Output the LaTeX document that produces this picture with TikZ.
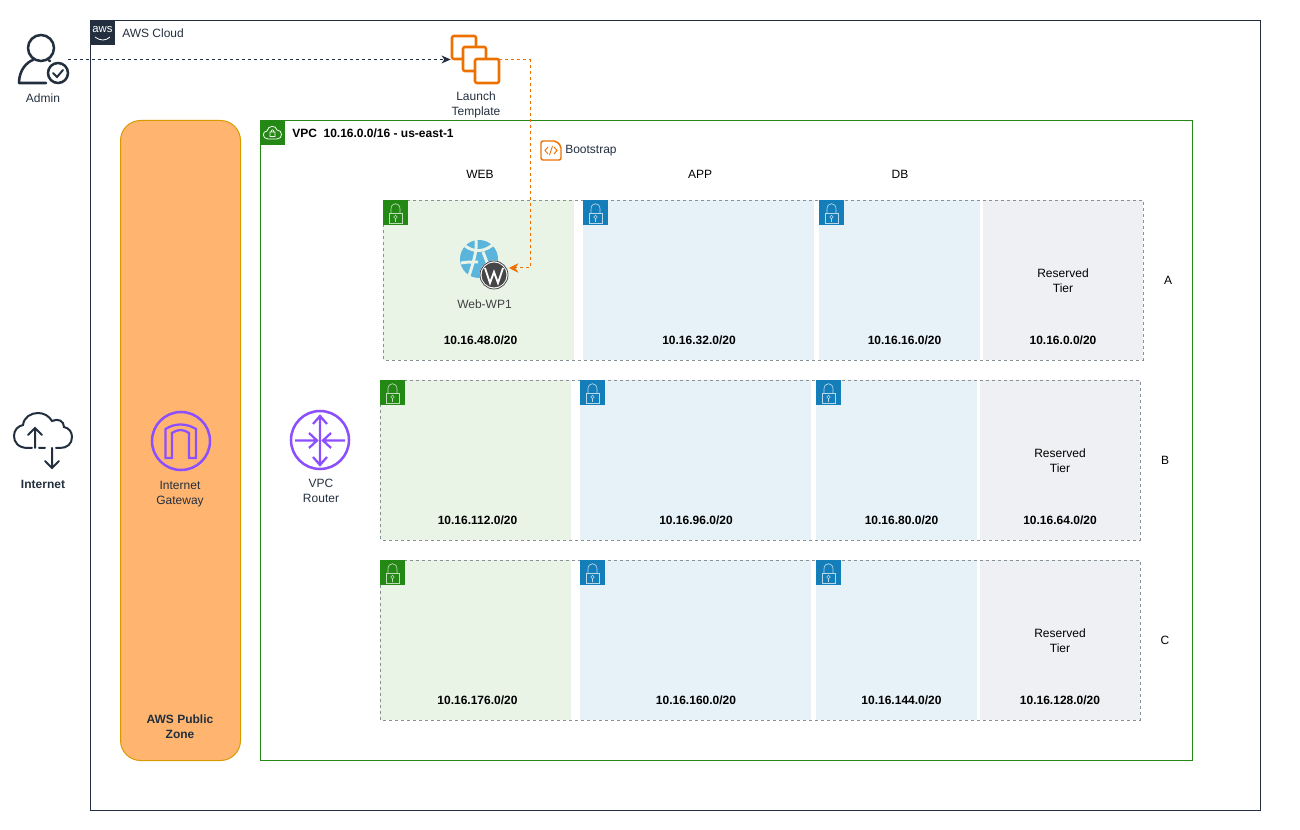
\documentclass[tikz,border=0pt]{standalone}
\usepackage{fontspec}
\setmainfont{Liberation Sans}
\usetikzlibrary{arrows.meta}
\definecolor{awsdark}{HTML}{232F3E}
\definecolor{awsorange}{HTML}{ED7100}
\definecolor{awspurple}{HTML}{8C4FFF}
\definecolor{awsgreen}{HTML}{248814}
\definecolor{awsblue}{HTML}{147EBA}
\definecolor{webfill}{HTML}{E9F3E6}
\definecolor{appfill}{HTML}{E6F2F8}
\definecolor{resfill}{HTML}{EFF0F3}
\definecolor{zonefill}{HTML}{FFB570}
\definecolor{zoneline}{HTML}{D79B00}
\definecolor{globeblue}{HTML}{5AB4DC}
\definecolor{wpgray}{HTML}{464646}
\definecolor{rowline}{HTML}{879196}
\tikzset{
lbl/.style={font=\fontsize{9}{11.25}\selectfont,align=center,inner sep=0pt,text=awsdark},
bold/.style={lbl,font=\fontsize{9}{11.25}\selectfont\bfseries},
plain/.style={lbl,text=black},
iconbox/.style={minimum width=36pt,minimum height=36pt,inner sep=0pt},
icon/.style={draw=awsdark,line width=1.9pt,line cap=round},
purpleicon/.style={draw=awspurple,line width=1.9pt},
orangeicon/.style={draw=awsorange,line width=1.9pt,rounded corners=1.5pt},
lockbadge/.pic={
\fill[#1] (0,0) rectangle (25,25);
\draw[white!70!#1,line width=.5pt] (6,13) rectangle (19,23);
\draw[white!70!#1,line width=.5pt] (8,13)--(8,9) .. controls (8,2) and (17,2) .. (17,9)--(17,13);
\draw[white!70!#1,line width=.4pt] (12.5,17) circle[radius=1.8] (12.5,19)--(12.5,22);
}
}
\begin{document}
\begin{tikzpicture}[x=.75pt,y=-.75pt]
\useasboundingbox (0,0) rectangle (1300,830);
\draw[awsdark,line width=.75pt] (90.5,20.5) rectangle (1260.5,810.5);
\fill[awsdark] (90,20) rectangle (115,45);
\node[inner sep=0pt,text=white,font=\fontsize{8.5}{8.5}\selectfont] (awslogo) at (102.5,30) {aws};
\draw[white,line width=.6pt] (95,37) .. controls (100,41) and (106,41) .. (110,37);
\node[lbl,anchor=west] (cloudlabel) at (122,33.5) {AWS Cloud};
\draw[zoneline,fill=zonefill,line width=.75pt,rounded corners=15pt] (120.5,120.5) rectangle (240.5,760.5);
\draw[awsgreen,line width=.75pt] (260.5,120.5) rectangle (1192.5,760.5);
\fill[awsgreen] (260,120) rectangle (285,145);
\draw[white,line width=.6pt] (268,139) .. controls (262,139) and (262,131) .. (267,131) .. controls (268,125) and (276,125) .. (277,130) .. controls (283,130) and (283,139) .. (277,139)--cycle;
\draw[white,line width=.5pt] (270,132) rectangle (275,136.5) (271,132) .. controls (271,129) and (274,129) .. (274,132);
\node[bold,anchor=west,text=black] (vpclabel) at (292,133.5) {VPC\ \ 10.16.0.0/16 - us-east-1};
\node[plain] (weblabel) at (480,174.5) {WEB};
\node[plain] (applabel) at (700,174.5) {APP};
\node[plain] (dblabel) at (900,174.5) {DB};
\foreach \rowname/\rowx/\rowy/\rowweb/\rowapp/\rowdb/\rowres in {
A/383/200/10.16.48.0/10.16.32.0/10.16.16.0/10.16.0.0,
B/380/380/10.16.112.0/10.16.96.0/10.16.80.0/10.16.64.0,
C/380/560/10.16.176.0/10.16.160.0/10.16.144.0/10.16.128.0}{
\begin{scope}[shift={(\rowx,\rowy)}]
\fill[webfill] (0,0) rectangle (191,160);
\fill[appfill] (200,0) rectangle (431,160);
\fill[appfill] (436,0) rectangle (597,160);
\fill[resfill] (600,0) rectangle (760,160);
\draw[rowline,line width=.5pt,dash pattern=on 2.25pt off 2.25pt] (.5,.5) rectangle (760,160);
\pic at (0,0) {lockbadge=awsgreen};
\pic at (200,0) {lockbadge=awsblue};
\pic at (436,0) {lockbadge=awsblue};
\node[bold,text=black] (web\rowname) at (97.5,140.5) {\rowweb/20};
\node[bold,text=black] (app\rowname) at (316,140.5) {\rowapp/20};
\node[bold,text=black] (db\rowname) at (521.5,140.5) {\rowdb/20};
\node[bold,text=black] (res\rowname) at (680,140.5) {\rowres/20};
\node[lbl,text=black] (tier\rowname) at (680,80.5) {Reserved\\Tier};
\end{scope}
}
\node[plain] (rowa) at (1168,280) {A};
\node[plain] (rowb) at (1165,460) {B};
\node[plain] (rowc) at (1165,640) {C};
\node[iconbox] (admin) at (44,59.5) {};
\draw[icon] (41,48) circle[radius=13];
\draw[icon] (19,83) .. controls (19,70) and (27,62) .. (33,60) (49,60.5)--(50,61) (19,83)--(46,83);
\draw[icon] (58,73) circle[radius=10];
\draw[icon,line width=1.5pt] (53,73)--(57,77)--(63,70);
\node[lbl] (adminlabel) at (43,98) {Admin};
\node[iconbox] (launch) at (475,59.5) {};
\draw[orangeicon] (463,59)--(452,59)--(452,36)--(476,36)--(476,47);
\draw[orangeicon] (475,71)--(463,71)--(463,47)--(486,47)--(486,59);
\draw[orangeicon] (475,59) rectangle (499,83);
\node[lbl] (launchlabel) at (476,105) {Launch\\Template};
\coordinate (bootcorner) at (530,59.5);
\coordinate (bootdrop) at (530,268);
\coordinate (webport) at (509,268);
\draw[awsdark,line width=.75pt,dash pattern=on 2.25pt off 2.25pt,-{Stealth[length=7pt,width=6pt]}] (admin.east)--(launch.west);
\draw[awsorange,line width=.75pt,dash pattern=on 2.25pt off 2.25pt,-{Stealth[length=7pt,width=7pt]}] (launch.east)--(bootcorner)--(bootdrop)--(webport);
\draw[orangeicon,line width=1.1pt] (541,141)--(556,141)--(561,146)--(561,160)--(541,160)--cycle;
\draw[awsorange,line width=.7pt] (548,147)--(545,150.5)--(548,154) (554,147)--(557,150.5)--(554,154) (552.5,146)--(549.5,155);
\node[lbl,anchor=west] (bootlabel) at (565,151) {Bootstrap};
\fill[globeblue] (479,259) circle[radius=19];
\draw[webfill,line width=2.2pt] (465,246) .. controls (475,253) and (485,252) .. (495,243) (476,240) .. controls (477,248) and (475,258) .. (469,276) (483,252) .. controls (487,262) and (490,270) .. (492,278) (461,263) .. controls (466,262) and (470,262) .. (478,262);
\fill[white] (494,275) circle[radius=14.5];
\fill[wpgray] (494,275) circle[radius=12.5];
\draw[white,line width=1.4pt] (485,268)--(490,283)--(494,272)--(498,283)--(503,268);
\draw[wpgray,line width=.6pt] (494,275) circle[radius=14];
\node[lbl,text=black!75] (webwp) at (484.5,304) {Web-WP1};
\draw[purpleicon] (181,441) circle[radius=29];
\draw[awspurple,line width=1.7pt] (165.5,458)--(165.5,429) .. controls (175,423) and (186,423) .. (196,429)--(196,458)--(189,458)--(189,433) .. controls (183,429) and (178,429) .. (172,433)--(172,458)--cycle;
\node[lbl] (igwlabel) at (180,494) {Internet\\Gateway};
\node[bold] (zonelabel) at (180,726.5) {AWS Public\\Zone};
\draw[purpleicon] (320,440) circle[radius=29];
\draw[awspurple,line width=1.7pt] (320,418)--(320,464) (313,424)--(320,416)--(327,424) (313,457)--(320,465)--(327,457);
\draw[awspurple,line width=1.7pt] (295,440.5)--(316,440.5) (309,433)--(317,440.5)--(309,448) (345,440.5)--(324,440.5) (331,433)--(323,440.5)--(331,448);
\node[lbl] (routerlabel) at (321,490.5) {VPC\\Router};
\draw[icon,line width=1.5pt] (32,448)--(28,448) .. controls (18,448) and (14,442) .. (14,436) .. controls (14,430) and (18,426) .. (23,425) .. controls (24,417) and (31,413) .. (38,413) .. controls (44,413) and (49,416) .. (52,421) .. controls (58,418) and (64,421) .. (64,427) .. controls (69,428) and (72,432) .. (72,437) .. controls (72,444) and (67,448) .. (60,448)--(56,448) (39,448)--(45,448);
\draw[icon,line width=1.5pt] (35,448)--(35,428) (28,435)--(35,428)--(42,435);
\draw[icon,line width=1.5pt] (52,448)--(52,468) (45,461)--(52,468)--(59,461);
\node[bold] (internetlabel) at (43,484) {Internet};
\end{tikzpicture}
\end{document}
